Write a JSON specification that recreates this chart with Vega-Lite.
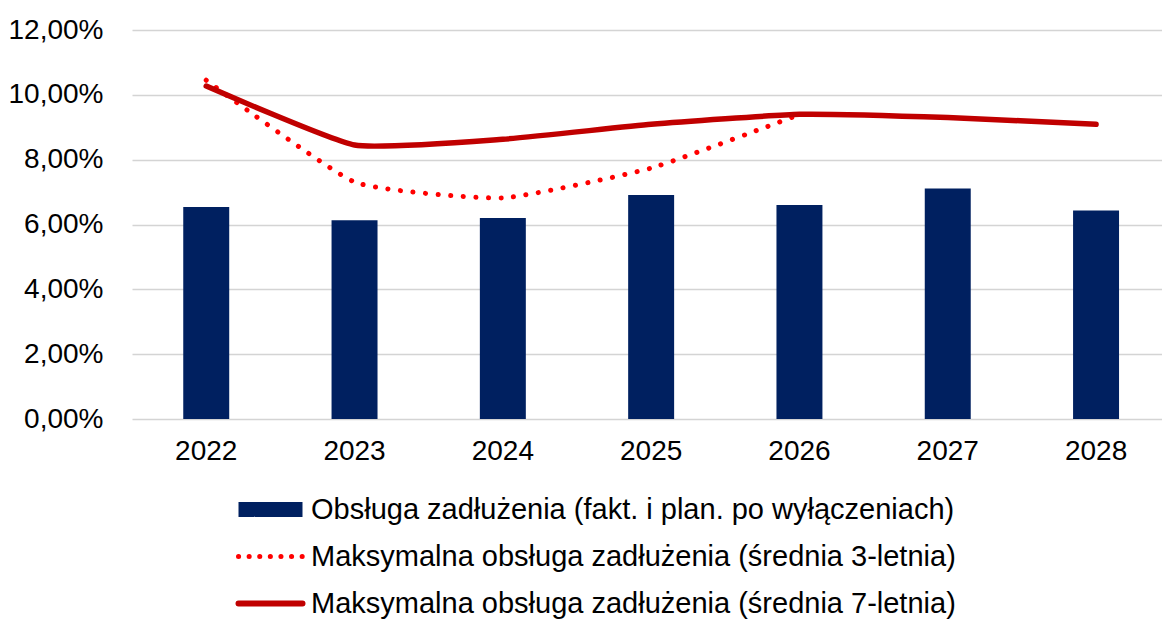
{
  "$schema": "https://vega.github.io/schema/vega-lite/v6.json",
  "autosize": {"type": "none"},
  "padding": {"left": 132, "top": 30, "right": 0, "bottom": 203},
  "width": 1030,
  "height": 389,
  "background": "white",
  "config": {
    "view": {"stroke": null},
    "font": "Liberation Sans"
  },
  "data": {
    "values": [
      {"year": "2022", "series": "Obsługa zadłużenia (fakt. i plan. po wyłączeniach)", "value": 6.54},
      {"year": "2023", "series": "Obsługa zadłużenia (fakt. i plan. po wyłączeniach)", "value": 6.13},
      {"year": "2024", "series": "Obsługa zadłużenia (fakt. i plan. po wyłączeniach)", "value": 6.20},
      {"year": "2025", "series": "Obsługa zadłużenia (fakt. i plan. po wyłączeniach)", "value": 6.91},
      {"year": "2026", "series": "Obsługa zadłużenia (fakt. i plan. po wyłączeniach)", "value": 6.60},
      {"year": "2027", "series": "Obsługa zadłużenia (fakt. i plan. po wyłączeniach)", "value": 7.11},
      {"year": "2028", "series": "Obsługa zadłużenia (fakt. i plan. po wyłączeniach)", "value": 6.43},
      {"year": "2022", "series": "Maksymalna obsługa zadłużenia (średnia 3-letnia)", "value": 10.45},
      {"year": "2023", "series": "Maksymalna obsługa zadłużenia (średnia 3-letnia)", "value": 7.31},
      {"year": "2024", "series": "Maksymalna obsługa zadłużenia (średnia 3-letnia)", "value": 6.82},
      {"year": "2025", "series": "Maksymalna obsługa zadłużenia (średnia 3-letnia)", "value": 7.74},
      {"year": "2026", "series": "Maksymalna obsługa zadłużenia (średnia 3-letnia)", "value": 9.39},
      {"year": "2022", "series": "Maksymalna obsługa zadłużenia (średnia 7-letnia)", "value": 10.27},
      {"year": "2023", "series": "Maksymalna obsługa zadłużenia (średnia 7-letnia)", "value": 8.45},
      {"year": "2024", "series": "Maksymalna obsługa zadłużenia (średnia 7-letnia)", "value": 8.63},
      {"year": "2025", "series": "Maksymalna obsługa zadłużenia (średnia 7-letnia)", "value": 9.09},
      {"year": "2026", "series": "Maksymalna obsługa zadłużenia (średnia 7-letnia)", "value": 9.40},
      {"year": "2027", "series": "Maksymalna obsługa zadłużenia (średnia 7-letnia)", "value": 9.30},
      {"year": "2028", "series": "Maksymalna obsługa zadłużenia (średnia 7-letnia)", "value": 9.09}
    ]
  },
  "encoding": {
    "x": {
      "field": "year",
      "type": "nominal",
      "scale": {"paddingInner": 0.69, "paddingOuter": 0.3176, "align": 0.544},
      "axis": {
        "title": null,
        "labelAngle": 0,
        "labelFontSize": 28,
        "labelColor": "#000000",
        "labelFont": "Liberation Sans",
        "ticks": false,
        "tickSize": 0,
        "domain": false,
        "labelPadding": 18
      }
    },
    "y": {
      "field": "value",
      "type": "quantitative",
      "scale": {"domain": [0, 12], "nice": false},
      "axis": {
        "title": null,
        "values": [0, 2, 4, 6, 8, 10, 12],
        "labelExpr": "replace(format(datum.value, '.2f'), '.', ',') + '%'",
        "labelFontSize": 28,
        "labelColor": "#000000",
        "labelFont": "Liberation Sans",
        "ticks": false,
        "tickSize": 0,
        "domain": false,
        "labelPadding": 29,
        "grid": true,
        "gridColor": "#d4d4d4",
        "gridWidth": 1.5
      }
    },
    "color": {
      "field": "series",
      "type": "nominal",
      "scale": {
        "domain": [
          "Obsługa zadłużenia (fakt. i plan. po wyłączeniach)",
          "Maksymalna obsługa zadłużenia (średnia 3-letnia)",
          "Maksymalna obsługa zadłużenia (średnia 7-letnia)"
        ],
        "range": ["#002060", "#FF0000", "#C00000"]
      },
      "legend": {
        "title": null,
        "orient": "none",
        "legendX": 124,
        "legendY": 465,
        "direction": "vertical",
        "gridAlign": "all",
        "symbolType": "stroke",
        "symbolSize": 4096,
        "labelFontSize": 29,
        "labelFont": "Liberation Sans",
        "labelColor": "#000000",
        "labelOffset": 26,
        "rowPadding": 2,
        "labelLimit": 900,
        "encode": {
          "symbols": {
            "update": {
              "fill": {"value": "transparent"},
              "stroke": {"signal": "datum.value === 'Maksymalna obsługa zadłużenia (średnia 3-letnia)' ? '#FF0000' : datum.value === 'Maksymalna obsługa zadłużenia (średnia 7-letnia)' ? '#C00000' : '#002060'"},
              "strokeWidth": {"signal": "datum.value === 'Maksymalna obsługa zadłużenia (średnia 3-letnia)' ? 5 : datum.value === 'Maksymalna obsługa zadłużenia (średnia 7-letnia)' ? 6 : 15"},
              "strokeDash": {"signal": "datum.value === 'Maksymalna obsługa zadłużenia (średnia 3-letnia)' ? [0.1, 10.5] : [1, 0]"},
              "strokeCap": {"signal": "datum.value === 'Obsługa zadłużenia (fakt. i plan. po wyłączeniach)' ? 'butt' : 'round'"},
              "opacity": {"value": 1}
            }
          }
        }
      }
    }
  },
  "layer": [
    {
      "transform": [{"filter": "datum.series === 'Obsługa zadłużenia (fakt. i plan. po wyłączeniach)'"}],
      "mark": {"type": "bar"}
    },
    {
      "transform": [{"filter": "datum.series === 'Maksymalna obsługa zadłużenia (średnia 3-letnia)'"}],
      "mark": {"type": "line", "interpolate": "cardinal", "tension": 0.55, "strokeWidth": 5, "strokeDash": [0.1, 12.5], "strokeCap": "round"}
    },
    {
      "transform": [{"filter": "datum.series === 'Maksymalna obsługa zadłużenia (średnia 7-letnia)'"}],
      "mark": {"type": "line", "interpolate": "cardinal", "tension": 0.55, "strokeWidth": 5.5, "strokeCap": "round", "strokeJoin": "round"}
    }
  ]
}
